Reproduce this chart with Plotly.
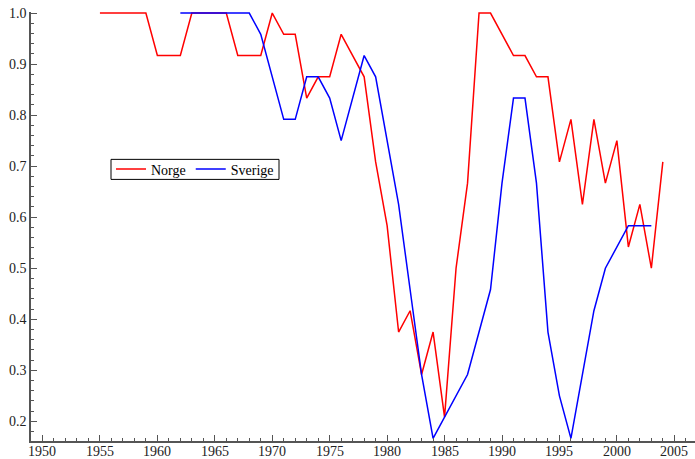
import plotly.graph_objects as go

# Andel (Norge / Sverige) per år
norge_years = list(range(1955, 2005))
norge_values = [1.0, 1.0, 1.0, 1.0, 1.0, 0.9167, 0.9167, 0.9167, 1.0, 1.0,
                1.0, 1.0, 0.9167, 0.9167, 0.9167, 1.0, 0.9583, 0.9583, 0.8333, 0.875,
                0.875, 0.9583, 0.9167, 0.875, 0.7083, 0.5833, 0.375, 0.4167, 0.2917, 0.375,
                0.2083, 0.5, 0.6667, 1.0, 1.0, 0.9583, 0.9167, 0.9167, 0.875, 0.875,
                0.7083, 0.7917, 0.625, 0.7917, 0.6667, 0.75, 0.5417, 0.625, 0.5, 0.7083]

sverige_years = list(range(1962, 2004))
sverige_values = [1.0, 1.0, 1.0, 1.0, 1.0, 1.0, 1.0, 0.9583, 0.875, 0.7917,
                  0.7917, 0.875, 0.875, 0.8333, 0.75, 0.8333, 0.9167, 0.875, 0.75, 0.625,
                  0.4583, 0.2917, 0.1667, 0.2083, 0.25, 0.2917, 0.375, 0.4583, 0.6667, 0.8333,
                  0.8333, 0.6667, 0.375, 0.25, 0.1667, 0.2917, 0.4167, 0.5, 0.5417, 0.5833,
                  0.5833, 0.5833]

x_ticks = list(range(1950, 2006, 5))
y_ticks = [0.2, 0.3, 0.4, 0.5, 0.6, 0.7, 0.8, 0.9, 1.0]

serif = "Liberation Serif"
axis_color = "#555555"

fig = go.Figure()
fig.add_trace(go.Scatter(x=norge_years, y=norge_values, mode="lines", name="Norge",
                         line=dict(color="#ff0000", width=1.5)))
fig.add_trace(go.Scatter(x=sverige_years, y=sverige_values, mode="lines", name="Sverige",
                         line=dict(color="#0000ff", width=1.5)))

# x tick labels sit tight under the axis, as in the original
for yr in x_ticks:
    fig.add_annotation(x=yr, y=0, xref="x", yref="paper", text=str(yr),
                       showarrow=False, yanchor="top", yshift=-1,
                       font=dict(family=serif, size=14, color="#222222"))

# legend frame (plotly's own box is too tall)
fig.add_shape(type="rect", xref="paper", yref="paper",
              x0=0.1205, x1=0.3735, y0=0.6098, y1=0.6565,
              line=dict(color="black", width=1), fillcolor="white", layer="below")

fig.update_layout(
    width=695, height=459,
    margin=dict(l=31, r=0, t=12, b=18),
    paper_bgcolor="white", plot_bgcolor="white",
    font=dict(family=serif, size=14, color="#222222"),
    showlegend=True,
    legend=dict(orientation="h", x=0.1205, y=0.633, xanchor="left", yanchor="middle",
                borderwidth=0, bgcolor="rgba(0,0,0,0)",
                font=dict(family=serif, size=14, color="black"),
                itemwidth=30, tracegroupgap=0),
    xaxis=dict(range=[1949.0, 2006.8], tickvals=x_ticks, showticklabels=False,
               ticks="inside", ticklen=6, tickcolor=axis_color, automargin=False,
               showgrid=False, zeroline=False,
               showline=True, linecolor=axis_color, linewidth=1.5,
               minor=dict(dtick=1, tick0=1950, ticks="inside", ticklen=3, tickcolor=axis_color)),
    yaxis=dict(range=[0.1615, 1.002], tickvals=y_ticks, tickformat=".1f", ticks="inside",
               ticklen=6, tickcolor=axis_color, automargin=False,
               tickfont=dict(family=serif, size=14, color="#222222"),
               showgrid=False, zeroline=False,
               showline=True, linecolor=axis_color, linewidth=1.5,
               minor=dict(dtick=0.02, tick0=0.2, ticks="inside", ticklen=3, tickcolor=axis_color)),
)

# no page margin, so the figure starts at the window corner
fig.write_html("out.html", config={"displayModeBar": False},
               post_script="document.body.style.margin='0';")
